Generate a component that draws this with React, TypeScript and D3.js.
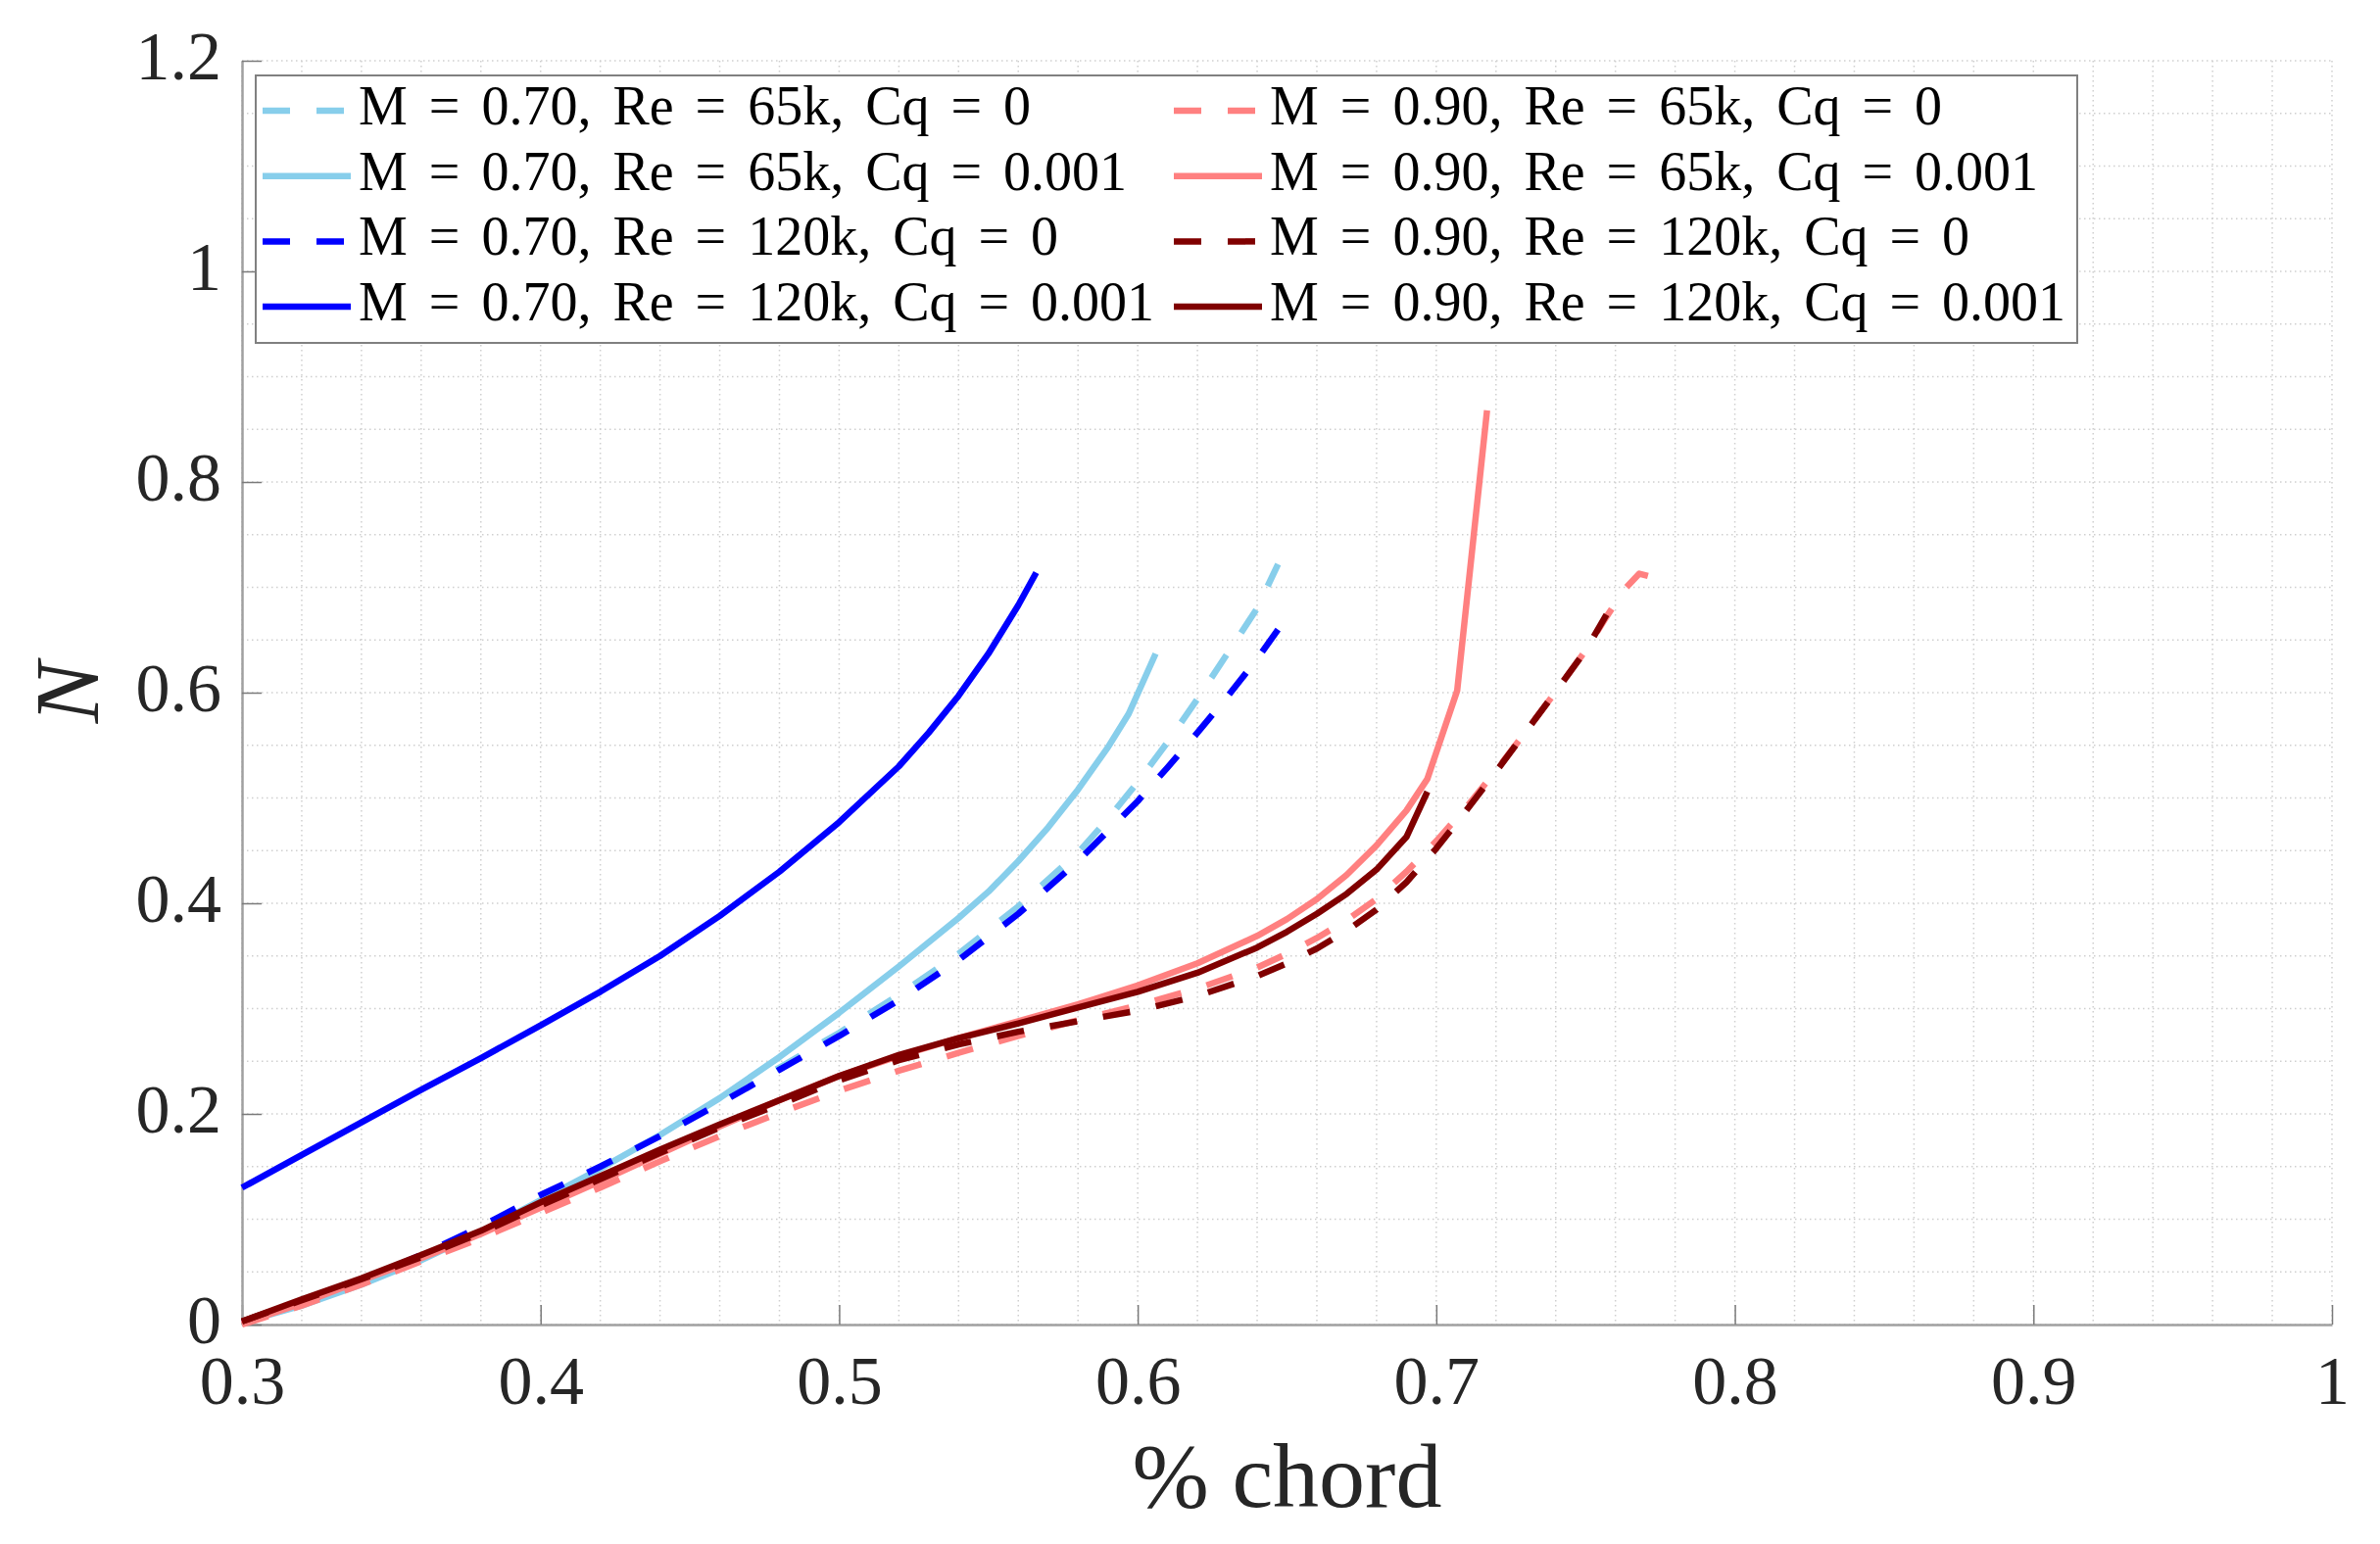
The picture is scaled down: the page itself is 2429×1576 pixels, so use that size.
import { useEffect, useRef } from "react";
import { select, scaleLinear, line, range, axisBottom, axisLeft } from "d3";

// chart data
const xTicks = [0.3, 0.4, 0.5, 0.6, 0.7, 0.8, 0.9, 1.0];
const xTickLabels = ["0.3", "0.4", "0.5", "0.6", "0.7", "0.8", "0.9", "1"];
const yTicks = [0, 0.2, 0.4, 0.6, 0.8, 1.0, 1.2];
const yTickLabels = ["0", "0.2", "0.4", "0.6", "0.8", "1", "1.2"];

const xLbDash = [0.3, 0.32, 0.34, 0.36, 0.38, 0.4, 0.42, 0.44, 0.46, 0.48, 0.5, 0.52, 0.54, 0.56, 0.58, 0.59, 0.6, 0.61, 0.62, 0.63, 0.64, 0.647];
const nLbDash = [0.002, 0.019, 0.04, 0.063, 0.09, 0.12, 0.15, 0.179, 0.211, 0.244, 0.277, 0.313, 0.352, 0.397, 0.448, 0.48, 0.515, 0.553, 0.594, 0.637, 0.68, 0.722];

const xLbSolid = [0.3, 0.32, 0.34, 0.36, 0.38, 0.4, 0.42, 0.44, 0.46, 0.48, 0.5, 0.52, 0.54, 0.55, 0.56, 0.57, 0.58, 0.59, 0.597, 0.606];
const nLbSolid = [0.002, 0.018, 0.038, 0.061, 0.088, 0.118, 0.148, 0.18, 0.215, 0.254, 0.296, 0.34, 0.386, 0.411, 0.44, 0.472, 0.508, 0.548, 0.58, 0.637];

const xBDash = [0.3, 0.32, 0.34, 0.36, 0.38, 0.4, 0.42, 0.44, 0.46, 0.48, 0.5, 0.52, 0.54, 0.56, 0.58, 0.6, 0.61, 0.62, 0.63, 0.64, 0.647];
const nBDash = [0.002, 0.02, 0.042, 0.066, 0.093, 0.123, 0.15, 0.179, 0.21, 0.242, 0.274, 0.308, 0.346, 0.39, 0.44, 0.497, 0.529, 0.562, 0.596, 0.632, 0.66];

const xBSolid = [0.3, 0.32, 0.34, 0.36, 0.38, 0.4, 0.42, 0.44, 0.46, 0.48, 0.5, 0.52, 0.53, 0.54, 0.55, 0.56, 0.566];
const nBSolid = [0.13, 0.161, 0.192, 0.223, 0.253, 0.284, 0.316, 0.35, 0.388, 0.43, 0.477, 0.53, 0.562, 0.597, 0.637, 0.683, 0.714];

const xLrDash = [0.3, 0.32, 0.34, 0.36, 0.38, 0.4, 0.42, 0.44, 0.46, 0.48, 0.5, 0.52, 0.54, 0.56, 0.58, 0.6, 0.62, 0.64, 0.65, 0.66, 0.67, 0.68, 0.69, 0.7, 0.71, 0.72, 0.73, 0.74, 0.75, 0.757, 0.763, 0.768, 0.777];
const nLrDash = [0.0, 0.018, 0.038, 0.06, 0.082, 0.106, 0.13, 0.155, 0.179, 0.201, 0.222, 0.241, 0.258, 0.274, 0.289, 0.303, 0.319, 0.339, 0.352, 0.367, 0.384, 0.404, 0.43, 0.459, 0.491, 0.526, 0.563, 0.601, 0.64, 0.672, 0.698, 0.713, 0.706];

const xLrSolid = [0.3, 0.32, 0.34, 0.36, 0.38, 0.4, 0.42, 0.44, 0.46, 0.48, 0.5, 0.52, 0.54, 0.56, 0.58, 0.6, 0.62, 0.64, 0.65, 0.66, 0.67, 0.68, 0.69, 0.697, 0.707, 0.717];
const nLrSolid = [0.001, 0.02, 0.042, 0.063, 0.086, 0.111, 0.136, 0.162, 0.188, 0.213, 0.236, 0.255, 0.272, 0.288, 0.304, 0.322, 0.343, 0.369, 0.385, 0.404, 0.427, 0.455, 0.488, 0.518, 0.602, 0.868];

const xDrDash = [0.3, 0.32, 0.34, 0.36, 0.38, 0.4, 0.42, 0.44, 0.46, 0.48, 0.5, 0.52, 0.54, 0.56, 0.58, 0.6, 0.62, 0.64, 0.65, 0.66, 0.67, 0.68, 0.69, 0.7, 0.71, 0.72, 0.73, 0.74, 0.75, 0.757];
const nDrDash = [0.003, 0.023, 0.043, 0.064, 0.087, 0.113, 0.138, 0.163, 0.187, 0.209, 0.232, 0.251, 0.266, 0.278, 0.288, 0.298, 0.312, 0.331, 0.343, 0.357, 0.374, 0.394, 0.42, 0.452, 0.488, 0.525, 0.563, 0.601, 0.64, 0.674];

const xDrSolid = [0.3, 0.32, 0.34, 0.36, 0.38, 0.4, 0.42, 0.44, 0.46, 0.48, 0.5, 0.52, 0.54, 0.56, 0.58, 0.6, 0.62, 0.64, 0.65, 0.66, 0.67, 0.68, 0.69, 0.697];
const nDrSolid = [0.003, 0.024, 0.044, 0.066, 0.089, 0.116, 0.141, 0.166, 0.19, 0.213, 0.236, 0.256, 0.272, 0.286, 0.301, 0.316, 0.334, 0.358, 0.373, 0.39, 0.409, 0.432, 0.463, 0.506];

const seriesLabels = [
    "M = 0.70, Re = 65k, Cq = 0",
    "M = 0.70, Re = 65k, Cq = 0.001",
    "M = 0.70, Re = 120k, Cq = 0",
    "M = 0.70, Re = 120k, Cq = 0.001",
    "M = 0.90, Re = 65k, Cq = 0",
    "M = 0.90, Re = 65k, Cq = 0.001",
    "M = 0.90, Re = 120k, Cq = 0",
    "M = 0.90, Re = 120k, Cq = 0.001",
];
const seriesX = [xLbDash, xLbSolid, xBDash, xBSolid, xLrDash, xLrSolid, xDrDash, xDrSolid];
const seriesN = [nLbDash, nLbSolid, nBDash, nBSolid, nLrDash, nLrSolid, nDrDash, nDrSolid];
const seriesColors = ["#87CEEB", "#87CEEB", "#0000FF", "#0000FF", "#FF8080", "#FF8080", "#800000", "#800000"];
const seriesDashed = [true, false, true, false, true, false, true, false];

const FONT = "'Liberation Serif', 'Times New Roman', serif";
const TEXT = "#262626";

export default function App() {
    const svgRef = useRef(null);

    useEffect(() => {
        const svg = select(svgRef.current);
        svg.selectAll("*").remove();

        const left = 247, right = 2380, top = 62, bottom = 1352;
        const x = scaleLinear().domain([0.3, 1]).range([left, right]);
        const y = scaleLinear().domain([0, 1.2]).range([bottom, top]);

        // dotted grid (major + minor)
        const grid = svg.append("g").attr("stroke", "#cfcfcf").attr("stroke-width", 1.5).attr("stroke-dasharray", "1.5,3.5");
        range(0, 36).map((i) => 0.3 + i * 0.02).forEach((v) => {
            grid.append("line").attr("x1", x(v)).attr("x2", x(v)).attr("y1", top).attr("y2", bottom);
        });
        range(0, 25).map((i) => i * 0.05).forEach((v) => {
            grid.append("line").attr("x1", left).attr("x2", right).attr("y1", y(v)).attr("y2", y(v));
        });

        // axes, ticks pointing inward
        const xAxis = axisBottom(x)
            .tickValues(xTicks)
            .tickFormat((_, i) => xTickLabels[i])
            .tickSize(-20)
            .tickSizeOuter(0)
            .tickPadding(31);
        const gx = svg.append("g").attr("transform", `translate(0,${bottom})`).call(xAxis);
        const yAxis = axisLeft(y)
            .tickValues(yTicks)
            .tickFormat((_, i) => yTickLabels[i])
            .tickSize(-20)
            .tickSizeOuter(0)
            .tickPadding(21);
        const gy = svg.append("g").attr("transform", `translate(${left},0)`).call(yAxis);
        [gx, gy].forEach((g) => {
            g.select(".domain").attr("stroke", "#a0a0a0").attr("stroke-width", 2.5);
            g.selectAll(".tick line").attr("stroke", "#7a7a7a").attr("stroke-width", 1.5);
            g.selectAll(".tick text").attr("fill", TEXT).style("font-family", FONT).style("font-size", "70px");
        });
        gy.selectAll(".tick text").attr("dy", "0.26em");

        // series
        const path = line();
        seriesX.forEach((xs, s) => {
            const pts: [number, number][] = xs.map((v, i) => [x(v), y(seriesN[s][i])]);
            svg.append("path")
                .attr("d", path(pts))
                .attr("fill", "none")
                .attr("stroke", seriesColors[s])
                .attr("stroke-width", 6.5)
                .attr("stroke-linejoin", "round")
                .attr("stroke-dasharray", seriesDashed[s] ? "28,27" : null);
        });

        // legend
        const lg = svg.append("g");
        lg.append("rect")
            .attr("x", 261).attr("y", 77).attr("width", 2120 - 261).attr("height", 350 - 77)
            .attr("fill", "white").attr("stroke", "#808080").attr("stroke-width", 2);
        seriesLabels.forEach((label, s) => {
            const col = Math.floor(s / 4);
            const row = s % 4;
            const lx = col === 0 ? 268 : 1198;
            const ly = 113 + row * 66.7;
            lg.append("line")
                .attr("x1", lx).attr("x2", lx + 90).attr("y1", ly).attr("y2", ly)
                .attr("stroke", seriesColors[s]).attr("stroke-width", 6.5)
                .attr("stroke-dasharray", seriesDashed[s] ? "28,27" : null);
            lg.append("text")
                .attr("x", lx + 98).attr("y", ly + 14)
                .attr("fill", "black")
                .style("font-family", FONT).style("font-size", "56px").style("word-spacing", "8px")
                .text(label);
        });

        // axis titles
        svg.append("text")
            .attr("x", (left + right) / 2).attr("y", 1538)
            .attr("text-anchor", "middle").attr("fill", TEXT)
            .style("font-family", FONT).style("font-size", "94px")
            .text("% chord");
        svg.append("text")
            .attr("transform", `translate(100,${(top + bottom) / 2}) rotate(-90)`)
            .attr("text-anchor", "middle").attr("fill", TEXT)
            .style("font-family", FONT).style("font-size", "94px").style("font-style", "italic")
            .text("N");
    }, []);

    return (
        <div style={{ position: "absolute", left: 0, top: 0, background: "white" }}>
            <svg ref={svgRef} width={2429} height={1576} style={{ display: "block" }} />
        </div>
    );
}
